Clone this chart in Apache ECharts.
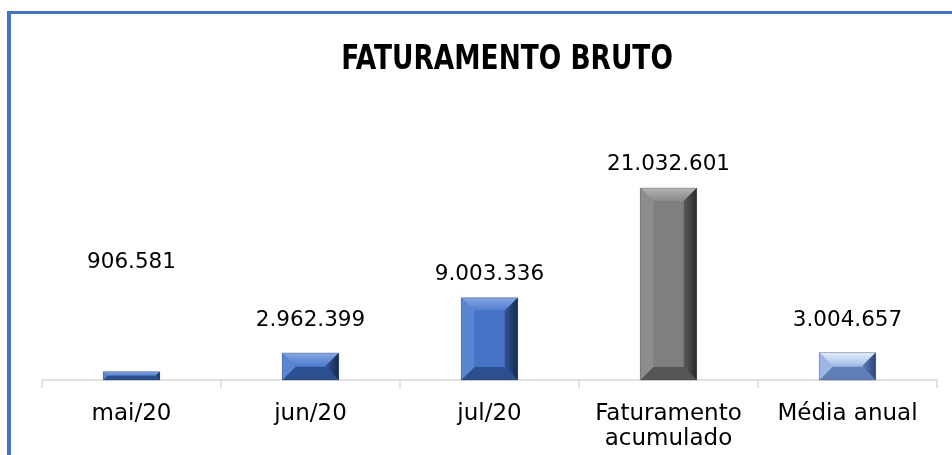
<!DOCTYPE html>
<html>
<head>
<meta charset="utf-8">
<script src="https://cdn.jsdelivr.net/npm/echarts@6/dist/echarts.min.js"></script>
<style>html,body{margin:0;padding:0;background:#fff;}#c{width:952px;height:455px;}</style>
</head>
<body>
<div id="c"></div>
<script>
const titleText = 'FATURAMENTO BRUTO';
const categories = ['mai/20', 'jun/20', 'jul/20', 'Faturamento\nacumulado', 'Média anual'];
const values = [906581, 2962399, 9003336, 21032601, 3004657];
const labelTexts = ['906.581', '2.962.399', '9.003.336', '21.032.601', '3.004.657'];

// styling (not data)
const labelGap = [109, 33, 23, 24, 32];
const palettes = ['blue', 'blue', 'blue', 'gray', 'light'];
const pal = {
  blue:  {face:'#4673c5', top:['#86a7e3','#4f7ccb'], left:'#5a85d0', right:['#2f5596','#16294d'], bottom:'#2c4f8f'},
  gray:  {face:'#7f7f7f', top:['#b3b3b3','#8a8a8a'], left:'#8d8d8d', right:['#5a5a5a','#2a2a2a'], bottom:'#555555'},
  light: {face:'#8eaadf', top:['#e3ebf9','#a8c0ea'], left:'#9db6e4', right:['#5c7bb6','#2b4477'], bottom:'#5f7fb9'}
};
const labelFont = "'DejaVu Sans', sans-serif";

const chart = echarts.init(document.getElementById('c'), null, {renderer: 'canvas'});

function renderItem(params, api) {
  const i = api.value(0);
  const v = api.value(1);
  const top = api.coord([i, v]);
  const base = api.coord([i, 0]);
  const bw = api.size([1, 0])[0] * 0.315;
  const x0 = top[0] - bw / 2, x1 = top[0] + bw / 2;
  const y0 = top[1], y1 = base[1];
  const h = y1 - y0;
  const b = Math.min(13, h / 2, bw / 2);
  const p = pal[palettes[i]];
  const children = [
    {type:'rect', shape:{x:x0, y:y0, width:bw, height:h}, style:{fill:p.face}},
    {type:'polygon', shape:{points:[[x0,y0],[x1,y0],[x1-b,y0+b],[x0+b,y0+b]]},
      style:{fill:new echarts.graphic.LinearGradient(0,0,0,1,[{offset:0,color:p.top[0]},{offset:1,color:p.top[1]}])}},
    {type:'polygon', shape:{points:[[x0,y1],[x1,y1],[x1-b,y1-b],[x0+b,y1-b]]}, style:{fill:p.bottom}},
    {type:'polygon', shape:{points:[[x0,y0],[x0+b,y0+b],[x0+b,y1-b],[x0,y1]]}, style:{fill:p.left}},
    {type:'polygon', shape:{points:[[x1,y0],[x1-b,y0+b],[x1-b,y1-b],[x1,y1]]},
      style:{fill:new echarts.graphic.LinearGradient(0,0,1,0,[{offset:0,color:p.right[0]},{offset:1,color:p.right[1]}])}},
    {type:'rect', shape:{x:x0, y:y0, width:bw, height:h}, style:{fill:'none', stroke:'rgba(30,40,60,0.35)', lineWidth:0.8}},
    {type:'text', style:{text:labelTexts[i], x:top[0], y:y0 - labelGap[i], align:'center', verticalAlign:'middle',
      font:'21.5px ' + labelFont, fill:'#000'}}
  ];
  return {type:'group', children};
}

chart.setOption({
  animation: false,
  backgroundColor: '#ffffff',
  graphic: [
    {type:'rect', left:7, top:11, shape:{width:4, height:460}, style:{fill:'#4472c4'}, z:100},
    {type:'rect', left:7, top:11, shape:{width:960, height:3}, style:{fill:'#4472c4'}, z:100},
    {type:'text', x:507, y:60, scaleX:0.89, originX:0, originY:0,
      style:{text:titleText, x:0, y:0, align:'center', verticalAlign:'middle',
      font:"bold 33px 'Liberation Sans Narrow', 'DejaVu Sans Condensed', sans-serif", fill:'#000'}}
  ],
  grid: {left:42, right:15, top:161, bottom:75},
  xAxis: {
    type:'category', data:categories,
    axisLine:{lineStyle:{color:'#d9d9d9', width:1.5}},
    axisTick:{show:true, length:8, lineStyle:{color:'#d9d9d9', width:1.5}},
    axisLabel:{color:'#000', fontSize:23, fontFamily:labelFont, margin:22, lineHeight:25, interval:0}
  },
  yAxis: {type:'value', min:0, max:24000000, show:false, splitLine:{show:false}},
  series: [{
    type:'custom',
    renderItem,
    data: values.map((v, i) => [i, v]),
    encode:{x:0, y:1}
  }]
});
</script>
</body>
</html>
